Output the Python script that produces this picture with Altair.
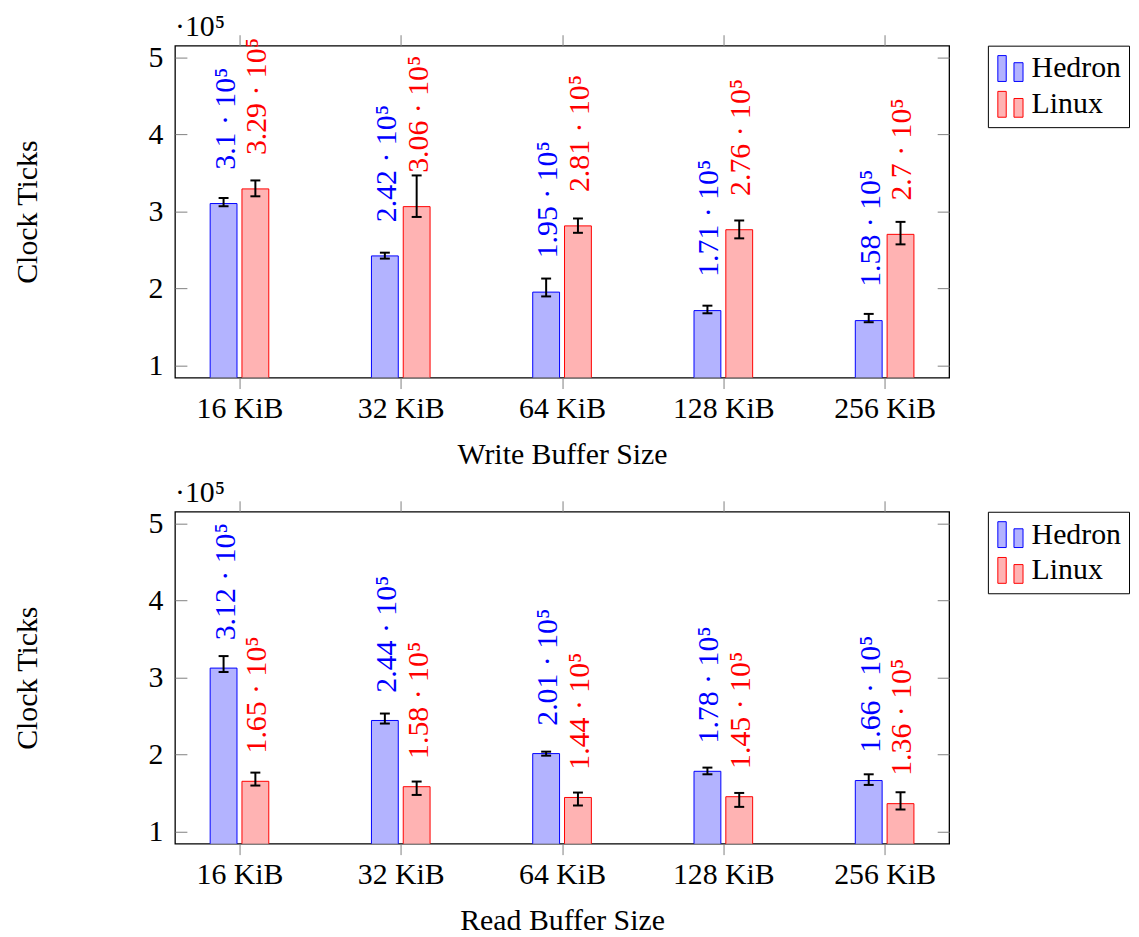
import altair as alt
import pandas as pd

# ---------------- data (values in units of 10^5 clock ticks) ----------------
categories = ["16 KiB", "32 KiB", "64 KiB", "128 KiB", "256 KiB"]
series_names = ["Hedron", "Linux"]

write_hedron = [3.10, 2.42, 1.95, 1.71, 1.58]
write_hedron_lo = [3.065, 2.385, 1.894, 1.675, 1.559]
write_hedron_hi = [3.172, 2.462, 2.126, 1.774, 1.667]
write_linux = [3.29, 3.06, 2.81, 2.76, 2.70]
write_linux_lo = [3.194, 2.926, 2.720, 2.648, 2.570]
write_linux_hi = [3.400, 3.465, 2.906, 2.880, 2.862]

read_hedron = [3.12, 2.44, 2.01, 1.78, 1.66]
read_hedron_lo = [3.069, 2.400, 1.983, 1.741, 1.603]
read_hedron_hi = [3.276, 2.530, 2.035, 1.828, 1.741]
read_linux = [1.65, 1.58, 1.44, 1.45, 1.36]
read_linux_lo = [1.595, 1.473, 1.336, 1.318, 1.284]
read_linux_hi = [1.763, 1.647, 1.504, 1.499, 1.508]

y_ticks = [1, 2, 3, 4, 5]
fill_colors = ["#b3b3ff", "#ffb3b3"]
line_colors = ["#0000ff", "#ff0000"]

FONT = "Liberation Serif"
FS = 30
W, H = 779, 334
OFFSETS = {"Hedron": -16, "Linux": 16}


def make_df(h, hlo, hhi, l, llo, lhi):
    rows = []
    for name, vals, lo, hi in [("Hedron", h, hlo, hhi), ("Linux", l, llo, lhi)]:
        for c, v, a, b in zip(categories, vals, lo, hi):
            rows.append({"size": c, "series": name, "value": v, "lo": a, "hi": b,
                         "label": f"{v:g} \u00b7 10\u2075"})
    return pd.DataFrame(rows)


x_scale = alt.Scale(type="point", padding=0.4, domain=categories)
y_scale = alt.Scale(domain=[0.84, 5.15], nice=False, zero=False)

legend_symbol = "M-1,-1H-0.35V1H-1Z M0.25,-0.45H0.95V1H0.25Z"


def legend():
    return alt.Legend(title=None, orient="none", legendX=818, legendY=0,
                      strokeColor="black", padding=8,
                      symbolType=legend_symbol, symbolSize=676, symbolStrokeWidth=1,
                      labelFont=FONT, labelFontSize=FS, labelColor="black",
                      labelOffset=6, rowPadding=6, cornerRadius=0)


def panel(df, xtitle, label_dx):
    base = alt.Chart(df)
    x_bottom = alt.X("size:N", scale=x_scale, sort=categories,
                     axis=alt.Axis(orient="bottom", title=xtitle, labelAngle=0,
                                   tickSize=11, labelPadding=5, titlePadding=16))
    x_top = alt.X("size:N", scale=x_scale, sort=categories,
                  axis=alt.Axis(orient="top", labels=False, title=None, tickSize=11))
    x_plain = alt.X("size:N", scale=x_scale, sort=categories, axis=None)
    y_main = alt.Y("value:Q", scale=y_scale,
                   axis=alt.Axis(orient="left", values=y_ticks, format="d", ticks=False,
                                 labelPadding=12, title="Clock Ticks",
                                 titleX=-133, titleY=H / 2))
    y_left_ticks = alt.Y("value:Q", scale=y_scale,
                         axis=alt.Axis(orient="left", values=y_ticks, labels=False,
                                       title=None, tickSize=12, offset=-12))
    y_right_ticks = alt.Y("lo:Q", scale=y_scale,
                          axis=alt.Axis(orient="right", values=y_ticks, labels=False,
                                        title=None, tickSize=12, offset=-12))
    fill = alt.Fill("series:N", scale=alt.Scale(domain=series_names, range=fill_colors),
                    legend=legend())
    stroke = alt.Stroke("series:N", scale=alt.Scale(domain=series_names, range=line_colors),
                        legend=legend())

    layers = []
    for i, s in enumerate(series_names):
        o = OFFSETS[s]
        sub = base.transform_filter(alt.datum.series == s)
        if i == 0:
            bx, by = x_bottom, y_main
        else:
            bx, by = x_top, y_left_ticks
        bars = sub.mark_bar(width=27, xOffset=o, strokeWidth=1, opacity=1,
                            clip=True).encode(x=bx, y=by, fill=fill, stroke=stroke)
        ry = y_right_ticks if i == 0 else alt.Y("lo:Q", scale=y_scale, axis=None)
        rule = sub.mark_rule(xOffset=o, strokeWidth=2, color="black").encode(
            x=x_plain, y=ry, y2="hi:Q")
        cap_lo = sub.mark_tick(xOffset=o, size=10, thickness=2, color="black",
                               orient="horizontal", opacity=1).encode(
            x=x_plain, y=alt.Y("lo:Q", scale=y_scale, axis=None))
        cap_hi = sub.mark_tick(xOffset=o, size=10, thickness=2, color="black",
                               orient="horizontal", opacity=1).encode(
            x=x_plain, y=alt.Y("hi:Q", scale=y_scale, axis=None))
        text = sub.mark_text(angle=270, align="left", baseline="middle", dx=label_dx,
                             xOffset=o + 2, font=FONT, fontSize=FS,
                             color=line_colors[i]).encode(
            x=x_plain, y=alt.Y("value:Q", scale=y_scale, axis=None), text="label:N")
        layers += [bars, rule, cap_lo, cap_hi, text]

    return alt.layer(*layers).resolve_axis(x="independent", y="independent").properties(
        width=W, height=H,
        title=alt.TitleParams(text="\u00b710\u2075", anchor="start", frame="group",
                              font=FONT, fontSize=FS, fontWeight="normal",
                              color="black", offset=-8),
    )


top = panel(make_df(write_hedron, write_hedron_lo, write_hedron_hi,
                    write_linux, write_linux_lo, write_linux_hi),
            "Write Buffer Size", 34)
bottom = panel(make_df(read_hedron, read_hedron_lo, read_hedron_hi,
                       read_linux, read_linux_lo, read_linux_hi),
               "Read Buffer Size", 28)

chart = alt.vconcat(top, bottom, spacing=7).resolve_scale(
    fill="independent", stroke="independent"
).properties(
    padding={"left": 4, "top": 0, "right": 0, "bottom": 0}
).configure_view(
    stroke="black", strokeWidth=1.3
).configure_axis(
    labelFont=FONT, labelFontSize=FS, labelColor="black",
    titleFont=FONT, titleFontSize=FS, titleFontWeight="normal", titleColor="black",
    tickColor="#808080", tickWidth=1, domain=False, grid=False,
).configure_legend(
    strokeWidth=1
)

chart.save("out.html", embed_options={"renderer": "svg", "actions": False})
